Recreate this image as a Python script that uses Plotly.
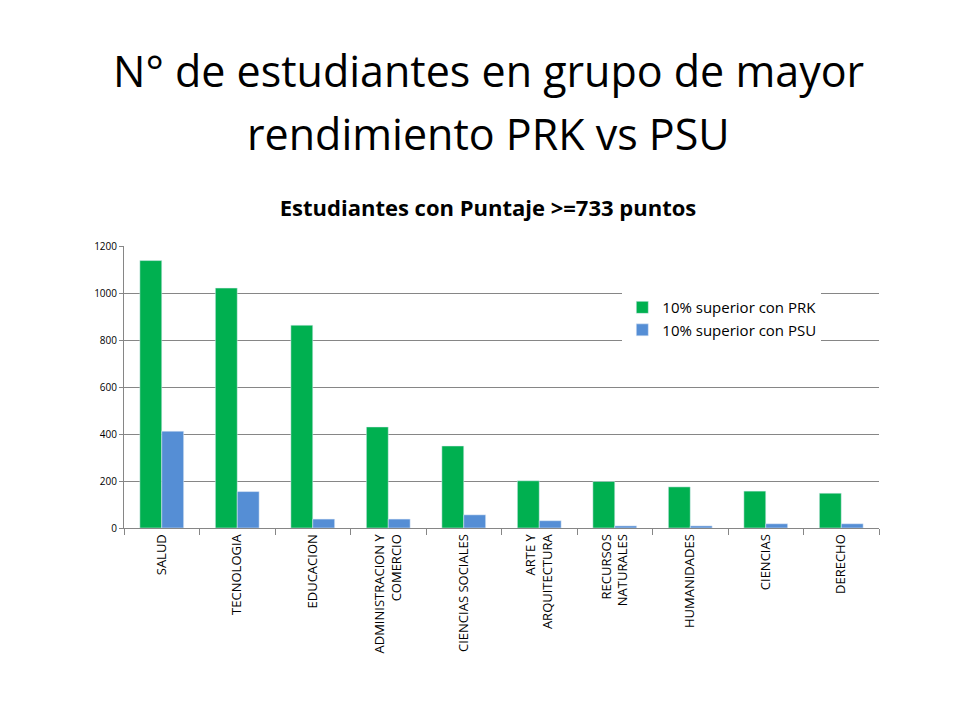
import plotly.graph_objects as go

categories = ["SALUD", "TECNOLOGIA", "EDUCACION", "ADMINISTRACION Y<br>COMERCIO", "CIENCIAS SOCIALES",
              "ARTE Y<br>ARQUITECTURA", "RECURSOS<br>NATURALES", "HUMANIDADES", "CIENCIAS", "DERECHO"]
prk = [1138, 1021, 863, 430, 349, 201, 198, 175, 157, 148]
psu = [412, 155, 38, 38, 56, 31, 9, 9, 18, 18]
title_lines = ["N° de estudiantes en grupo de mayor", "rendimiento PRK vs PSU"]

fig = go.Figure()
fig.add_bar(x=categories, y=prk, name="10% superior con PRK", marker_color="#00B050")
fig.add_bar(x=categories, y=psu, name="10% superior con PSU", marker_color="#558ED5")
fig.update_layout(
    width=960, height=720, plot_bgcolor="white", paper_bgcolor="white",
    font=dict(family="Open Sans, Noto Sans, sans-serif", color="black"),
    margin=dict(l=116, r=89, t=238, b=200),
    bargap=0.42, bargroupgap=0,
    legend=dict(x=0.66, y=0.84, xanchor="left", yanchor="top", bgcolor="white",
                font=dict(size=15), tracegroupgap=18, itemwidth=30),
    title=dict(text="<b>Estudiantes con Puntaje >=733 puntos</b>", x=0.5, xanchor="center",
               y=0.722, yanchor="middle", font=dict(size=22)),
)
for i, line in enumerate(title_lines):
    fig.add_annotation(text=line, xref="paper", yref="paper", x=0.5, xshift=-13, y=1,
                       yshift=176 - 63 * i, xanchor="center", yanchor="middle", showarrow=False,
                       font=dict(size=43, family="Open Sans, sans-serif"))
fig.update_yaxes(range=[0, 1200], dtick=200, gridcolor="#868686", showline=True, linecolor="#868686",
                 tickfont=dict(size=10), ticks="outside", ticklen=4, tickcolor="#868686", zeroline=False)
fig.update_xaxes(tickangle=-90, showline=True, linecolor="#868686", tickfont=dict(size=13),
                 ticks="outside", tickcolor="#868686", tickson="boundaries", ticklen=6)
fig.write_html("out.html")
